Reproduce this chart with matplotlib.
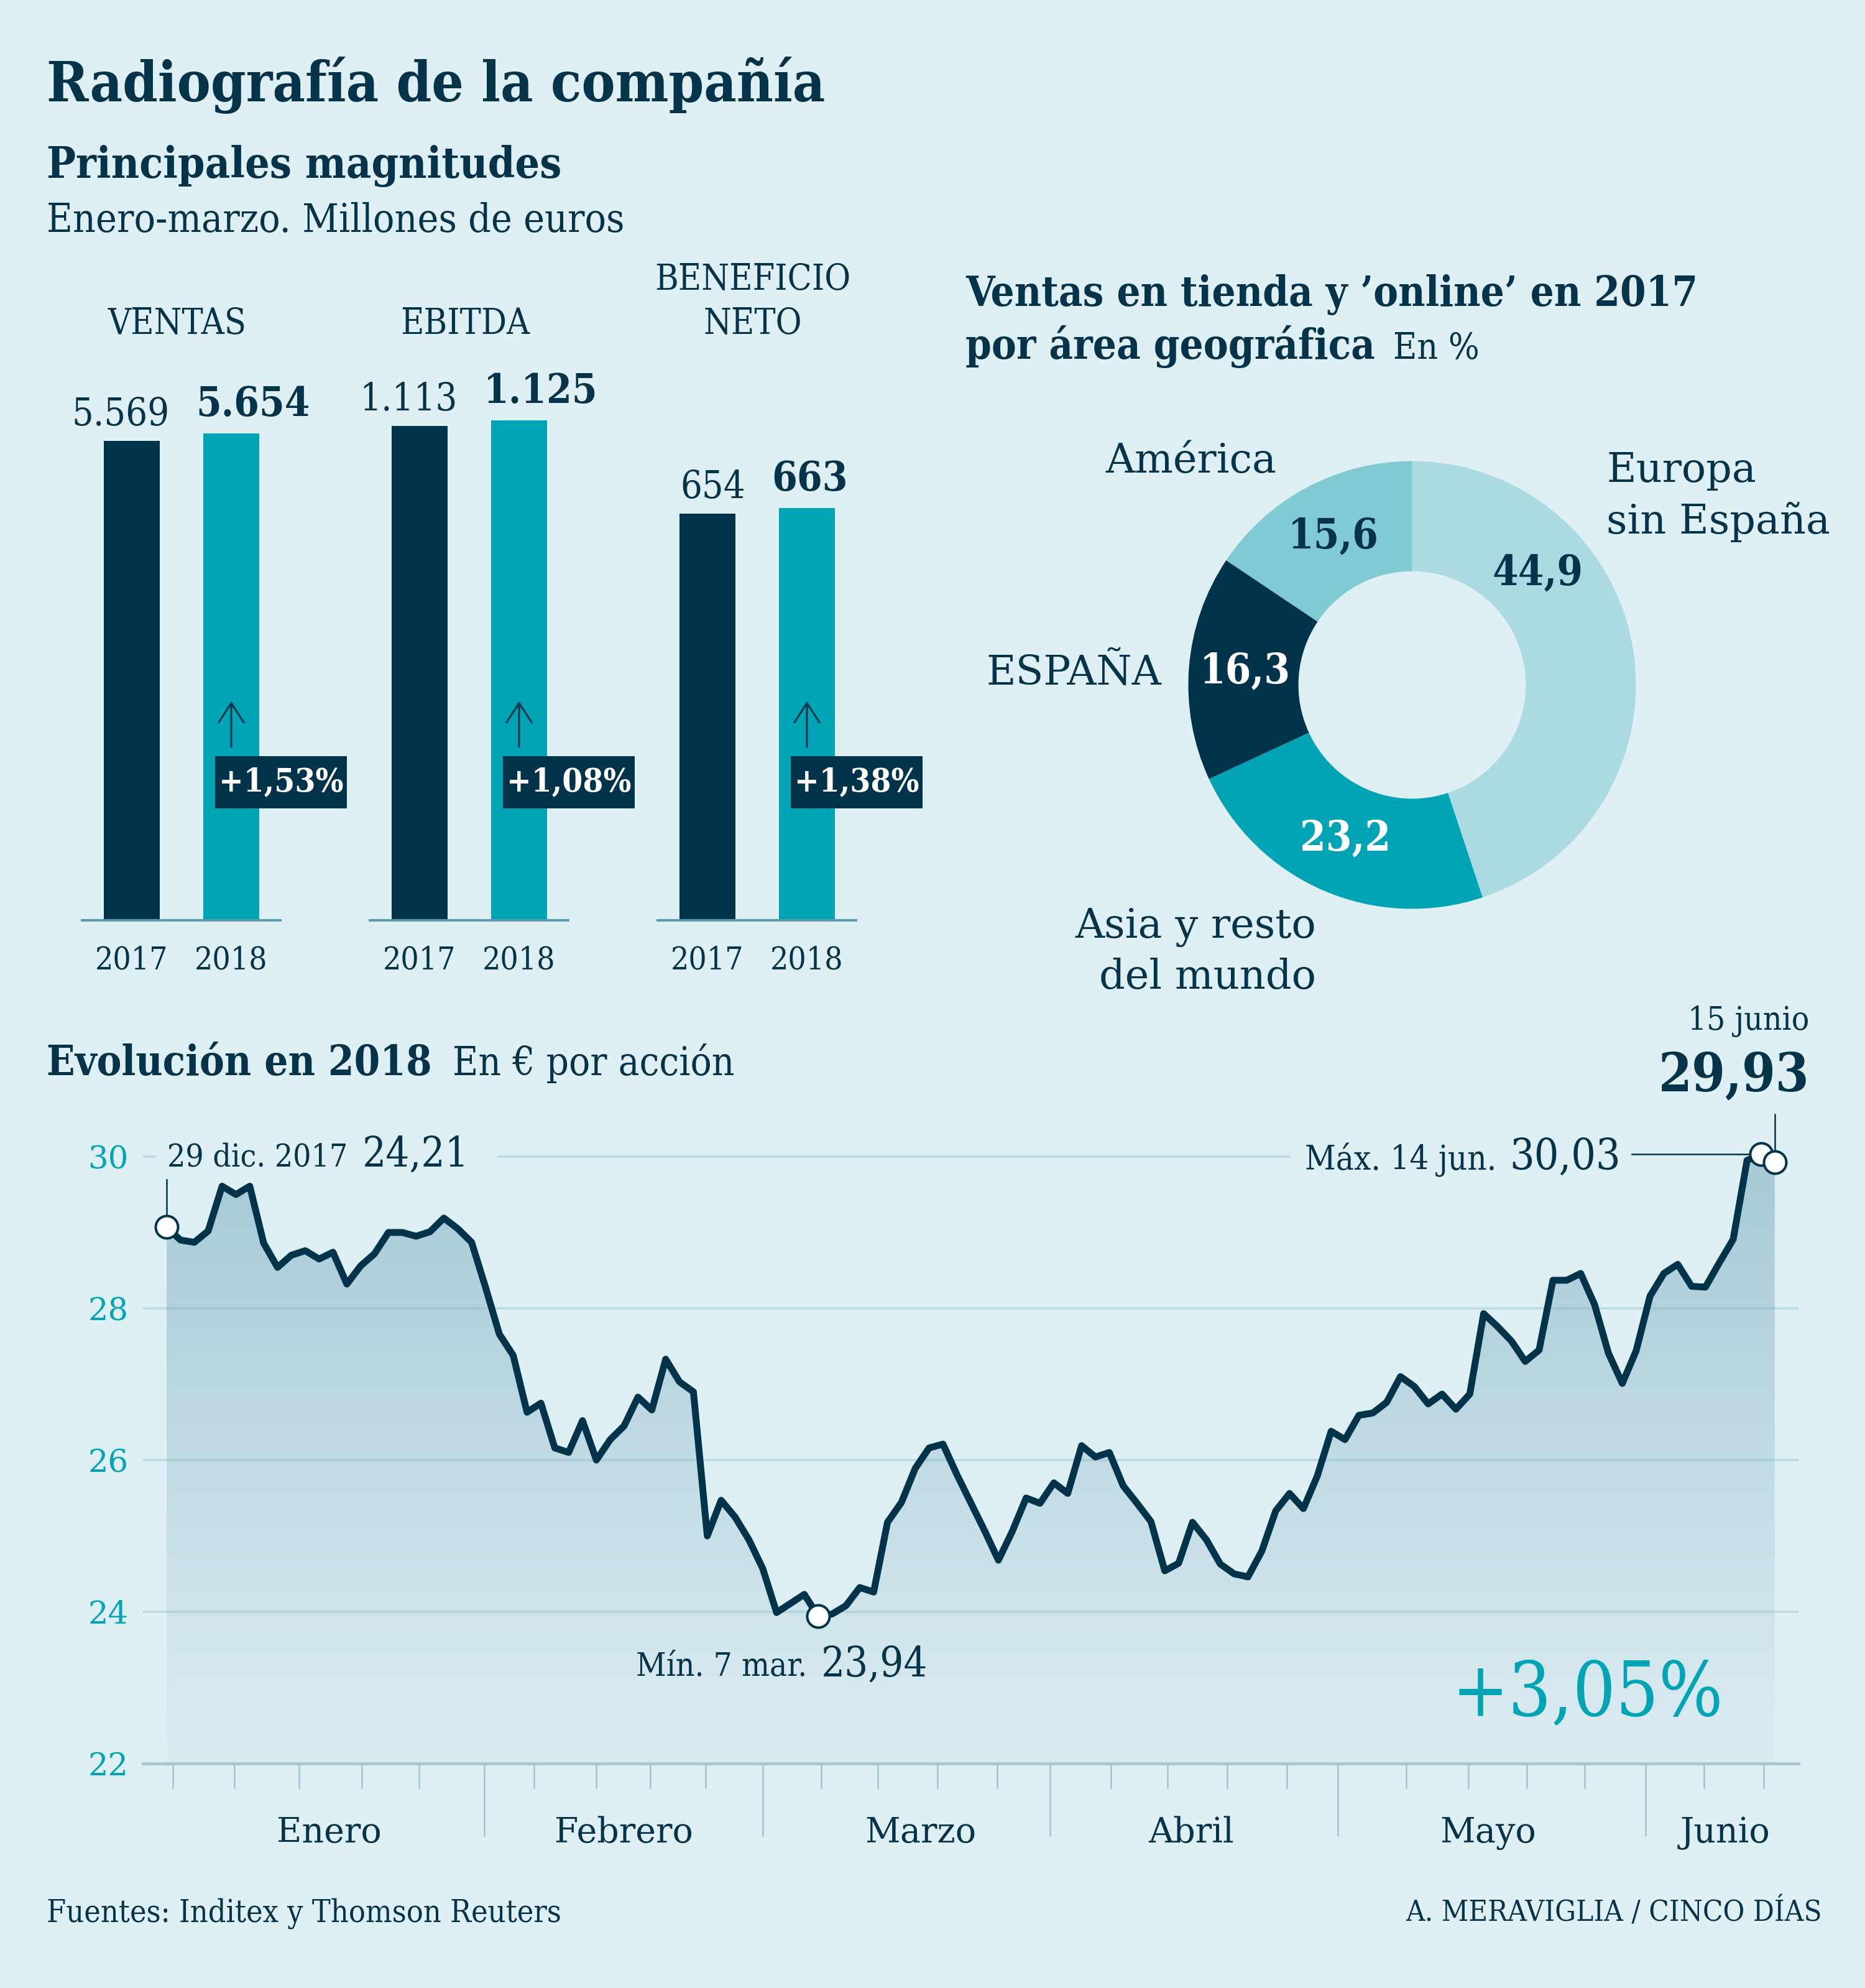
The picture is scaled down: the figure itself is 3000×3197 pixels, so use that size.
import numpy as np
import matplotlib
matplotlib.use("Agg")
import matplotlib.pyplot as plt
from matplotlib.patches import Rectangle, FancyArrowPatch, Polygon

# ---------------- data ----------------
metric_names = ["VENTAS", "EBITDA", "BENEFICIO\nNETO"]
years = ["2017", "2018"]
values_2017 = [5569, 1113, 654]
values_2018 = [5654, 1125, 663]
value_labels_2017 = ["5.569", "1.113", "654"]
value_labels_2018 = ["5.654", "1.125", "663"]
pct_change = ["+1,53%", "+1,08%", "+1,38%"]
bar_scale_max = [6500, 1260, 900]

regions = ["Europa\nsin España", "Asia y resto\ndel mundo", "ESPAÑA", "América"]
region_share = [44.9, 23.2, 16.3, 15.6]
region_labels = ["44,9", "23,2", "16,3", "15,6"]

price = [29.07, 28.90, 28.87, 29.02, 29.61, 29.50, 29.61, 28.86, 28.54, 28.70,
         28.76, 28.65, 28.74, 28.32, 28.56, 28.72, 29.00, 29.00, 28.95, 29.01,
         29.19, 29.05, 28.87, 28.28, 27.66, 27.38, 26.63, 26.75, 26.16, 26.10,
         26.52, 26.00, 26.27, 26.45, 26.83, 26.66, 27.33, 27.03, 26.90, 25.00,
         25.47, 25.25, 24.95, 24.57, 23.99, 24.11, 24.23, 23.94, 23.97, 24.08,
         24.32, 24.26, 25.18, 25.44, 25.89, 26.16, 26.21, 25.81, 25.44, 25.07,
         24.68, 25.06, 25.50, 25.43, 25.70, 25.56, 26.19, 26.04, 26.10, 25.66,
         25.43, 25.19, 24.54, 24.64, 25.18, 24.95, 24.63, 24.50, 24.46, 24.80,
         25.33, 25.56, 25.36, 25.79, 26.38, 26.27, 26.59, 26.62, 26.76, 27.10,
         26.97, 26.74, 26.87, 26.67, 26.87, 27.93, 27.76, 27.57, 27.30, 27.45,
         28.37, 28.37, 28.46, 28.05, 27.41, 27.01, 27.44, 28.16, 28.46, 28.58,
         28.29, 28.28, 28.60, 28.91, 29.95, 30.03, 29.93]
y_ticks = [22, 24, 26, 28, 30]
month_names = ["Enero", "Febrero", "Marzo", "Abril", "Mayo", "Junio"]
month_label_pos = [11.7, 33.0, 54.4, 73.9, 95.3, 112.4]
month_ticks = [22.9, 43.0, 63.7, 84.5, 106.7]
week_ticks = [0.43, 4.9, 9.55, 14.1, 18.2, 26.5, 31.0, 34.9, 38.9, 47.2, 51.3,
              55.6, 59.9, 68.1, 72.2, 76.5, 80.8, 89.4, 93.9, 98.1, 102.3,
              110.9, 115.2]
i_start, i_min, i_max, i_end = 0, 47, 115, 116

# ---------------- style ----------------
W, H, DPI = 3000, 3197, 100
BG = "#dff0f4"
NAVY = "#01344b"
TEAL = "#00a4b5"
TXT = "#05334a"
FAM = "DejaVu Serif"
CND = "condensed"

def fx(x): return x / W
def fy(y): return 1 - y / H
def pt(px): return px * 72.0 / DPI

fig = plt.figure(figsize=(W / DPI, H / DPI), dpi=DPI)
fig.patch.set_facecolor(BG)

def T(x, y, s, size, weight="normal", color=TXT, ha="left", va="baseline",
      stretch=CND, **kw):
    return fig.text(fx(x), fy(y), s, fontsize=size, fontweight=weight, color=color,
                    ha=ha, va=va, family=FAM, stretch=stretch, **kw)

# ---------------- titles ----------------
T(75, 163, "Radiografía de la compañía", 65, "bold")
T(75, 286, "Principales magnitudes", 50, "bold")
T(75, 373, "Enero-marzo. Millones de euros", 46)

# ---------------- bar groups ----------------
for g in range(3):
    x0 = 132 + 463 * g
    axb = fig.add_axes([fx(x0), fy(1480), 319 / W, 900 / H])
    axb.patch.set_alpha(0)
    axb.bar([0, 1], [values_2017[g], values_2018[g]], width=0.5625,
            color=[NAVY, TEAL], zorder=2)
    axb.set_xlim(-0.5, 1.49375)
    axb.set_ylim(0, bar_scale_max[g])
    for s in ["left", "right", "top"]:
        axb.spines[s].set_visible(False)
    axb.spines["bottom"].set_color("#5e9aad")
    axb.spines["bottom"].set_linewidth(pt(4))
    axb.set_yticks([])
    axb.set_xticks([0, 1])
    axb.set_xticklabels(years, fontsize=37, color=TXT, family=FAM, stretch=CND)
    axb.tick_params(axis="x", length=0, pad=pt(40))
    axb.annotate(value_labels_2017[g], xy=(0.28125, values_2017[g]),
                 xytext=(pt(16), pt(25)), textcoords="offset points",
                 ha="right", va="baseline", fontsize=44, color=TXT,
                 family=FAM, stretch=CND)
    axb.annotate(value_labels_2018[g], xy=(1 - 0.28125, values_2018[g]),
                 xytext=(pt(-12), pt(28)), textcoords="offset points",
                 ha="left", va="baseline", fontsize=47, fontweight="bold",
                 color=TXT, family=FAM, stretch=CND)
    # header
    lines = metric_names[g].split("\n")
    for k, ln in enumerate(reversed(lines)):
        T(x0 + 153, 537 - 71 * k, ln, 41, ha="center")
    # arrow + percent box
    cx = x0 + 240
    arr = FancyArrowPatch((fx(cx), fy(1204)), (fx(cx), fy(1125)),
                          transform=fig.transFigure,
                          arrowstyle="->,head_length=0.45,head_width=0.29",
                          mutation_scale=50, color=NAVY, lw=pt(3))
    fig.add_artist(arr)
    fig.add_artist(Rectangle((fx(x0 + 214), fy(1300)), 212 / W, 84 / H,
                             transform=fig.transFigure, facecolor=NAVY,
                             edgecolor="none"))
    T(x0 + 320, 1258, pct_change[g], 38, "bold", color="white", ha="center",
      va="center")

# ---------------- donut ----------------
T(1553, 492, "Ventas en tienda y ’online’ en 2017", 48, "bold")
T(1553, 577, "por área geográfica", 48, "bold")
T(2241, 577, "En %", 42)

dcx, dcy, R = 2271.5, 1101.5, 360
axd = fig.add_axes([fx(dcx - R), fy(dcy + R), 2 * R / W, 2 * R / H])
axd.patch.set_alpha(0)
donut_colors = ["#acdae3", "#00a4b5", "#01344b", "#80cad4"]
axd.pie(region_share, colors=donut_colors, startangle=90, counterclock=False,
        radius=1, wedgeprops=dict(width=0.492, edgecolor="none"))
axd.set_xlim(-1, 1)
axd.set_ylim(-1, 1)
label_angle_override = {0: 41.6}
label_colors = [TXT, "white", "white", TXT]
cum = 0.0
for i, (share, lab) in enumerate(zip(region_share, region_labels)):
    mid = 90 - 3.6 * (cum + share / 2)
    cum += share
    ang = np.deg2rad(label_angle_override.get(i, mid))
    axd.text(0.75 * np.cos(ang), 0.75 * np.sin(ang), lab, ha="center",
             va="center", fontsize=48, fontweight="bold", color=label_colors[i],
             family=FAM, stretch=CND)

T(2584, 775, "Europa", 47, stretch="normal")
T(2584, 858, "sin España", 47, stretch="normal")
T(2117, 1508, "Asia y resto", 47, ha="right", stretch="normal")
T(2117, 1590, "del mundo", 47, ha="right", stretch="normal")
T(1868, 1101, "ESPAÑA", 47, ha="right", stretch="normal")
T(2053, 760, "América", 47, ha="right", stretch="normal")

# ---------------- line chart ----------------
T(75, 1729, "Evolución en 2018", 48, "bold")
T(728, 1729, "En € por acción", 45.5)

ax = fig.add_axes([fx(230), fy(2836), (2893 - 230) / W, (2836 - 1788) / H])
ax.patch.set_alpha(0)
ax.set_xlim(-1.704, 117.71)
ax.set_ylim(22, 30.59)
x = np.arange(len(price))
y = np.array(price)

poly = Polygon(list(zip(x, y)) + [(x[-1], 22), (x[0], 22)], closed=True,
               facecolor="none", edgecolor="none")
ax.add_patch(poly)
top_c = np.array([163, 199, 213]) / 255
bot_c = np.array([220, 237, 242]) / 255
tt = np.linspace(0, 1, 256)[:, None]
grad = top_c[None, None, :] * (1 - tt[:, :, None]) + bot_c[None, None, :] * tt[:, :, None]
im = ax.imshow(grad, extent=[x[0], x[-1], 22, 30.59], origin="upper",
               aspect="auto", zorder=1, interpolation="bilinear")
im.set_clip_path(poly)

gcol = (130 / 255, 180 / 255, 200 / 255)
for yv in y_ticks[1:-1]:
    ax.axhline(yv, color=gcol, alpha=0.35, lw=pt(4), zorder=2)
def px2i(px): return (px - 268) / 22.3
ax.hlines(30, px2i(230), px2i(252), color=gcol, alpha=0.35, lw=pt(4), zorder=2)
ax.hlines(30, px2i(800), px2i(2075), color=gcol, alpha=0.35, lw=pt(4), zorder=2)

ax.plot(x, y, color=NAVY, lw=pt(11), solid_joinstyle="round",
        solid_capstyle="round", zorder=4)

for s in ["left", "right", "top"]:
    ax.spines[s].set_visible(False)
ax.spines["bottom"].set_color("#a7c8d5")
ax.spines["bottom"].set_linewidth(pt(5))
ax.spines["bottom"].set_zorder(3)
ax.set_yticks(y_ticks)
ax.set_yticklabels([str(v) for v in y_ticks], fontsize=37, color=TEAL,
                   family=FAM, stretch="normal")
ax.tick_params(axis="y", length=0, pad=pt(23))
ax.set_xticks(month_ticks)
ax.set_xticks(week_ticks, minor=True)
ax.tick_params(axis="x", which="major", length=pt(117), width=pt(2.5),
               color="#a2c3d0", labelbottom=False)
ax.tick_params(axis="x", which="minor", length=pt(40), width=pt(2.5),
               color="#a2c3d0", labelbottom=False)
for name, pos in zip(month_names, month_label_pos):
    ax.text(pos, -127 / 1048, name, transform=ax.get_xaxis_transform(),
            ha="center", va="baseline", fontsize=40, color=TXT, family=FAM,
            stretch="normal")

# leaders
ax.plot([i_start, i_start], [y[i_start], 29.70], color=NAVY, lw=pt(2.5), zorder=3)
ax.plot([px2i(2625), i_max], [y[i_max], y[i_max]], color=NAVY, lw=pt(2.5), zorder=3)
ax.plot([i_end, i_end], [y[i_end], 30.56], color=NAVY, lw=pt(2.5), zorder=3,
        clip_on=False)
for i in [i_start, i_min, i_max, i_end]:
    ax.plot([i], [y[i]], "o", ms=pt(36), mfc="white", mec=NAVY, mew=pt(4),
            zorder=6, clip_on=False)

T(269, 1875, "29 dic. 2017", 37)
T(583, 1875, "24,21", 48)
T(1298, 2695, "Mín. 7 mar.", 38, ha="right")
T(1321, 2695, "23,94", 48)
T(2407, 1881, "Máx. 14 jun.", 39, ha="right")
T(2428, 1881, "30,03", 50)
T(2910, 1656, "15 junio", 38, ha="right")
T(2910, 1754, "29,93", 62, "bold", ha="right")
T(2772, 2759, "+3,05%", 87, color=TEAL, ha="right")

# ---------------- footer ----------------
T(75, 3090, "Fuentes: Inditex y Thomson Reuters", 36)
T(2931, 3090, "A. MERAVIGLIA / CINCO DÍAS", 34, ha="right")

fig.savefig("out.png", dpi=DPI, facecolor=BG)
